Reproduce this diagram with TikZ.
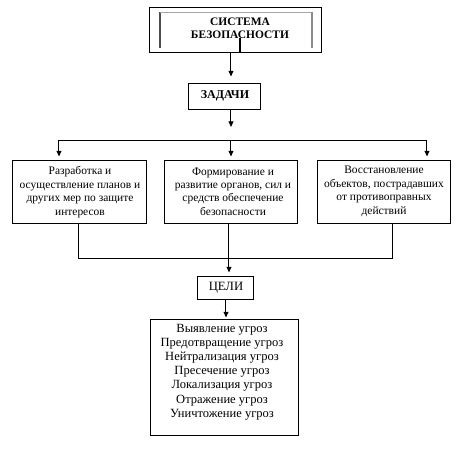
\documentclass[tikz,border=0pt]{standalone}
\usepackage{fontspec}
\setmainfont{Liberation Serif}
\usetikzlibrary{arrows.meta}
\begin{document}
\begin{tikzpicture}[x=0.75pt,y=-0.75pt,
  line width=0.75pt,
  box/.style={draw, rectangle, inner sep=0pt},
  txt/.style={align=center, inner sep=0pt, font=\fontsize{8.6pt}{10.1pt}\selectfont},
  arr/.style={-{Triangle[width=3.6pt,length=4.2pt]}}]
\useasboundingbox (0,0) rectangle (462,451);
\fill[white] (0,0) rectangle (462,451);
% top box
\node[box, minimum width=129pt, minimum height=33.75pt] (top) at (236,29.5) {};
\draw[line width=1.5pt, black!70] (160,48) -- (160,12);
\draw[line width=0.75pt, black!35] (160,12) -- (312,12);
\draw[line width=1.5pt, black!45] (312,12) -- (312,48);
\node[align=center, inner sep=0pt, font=\fontsize{8.6pt}{9.75pt}\selectfont\bfseries] (toptxt) at (240,28.5) {СИСТЕМА\\БЕЗОПАСНОСТИ};
\draw[line width=2pt] (240,38) -- (240,52);
% tasks
\node[box, minimum width=54pt, minimum height=19.5pt, font=\fontsize{9pt}{10pt}\selectfont\bfseries] (zad) at (225,96) {ЗАДАЧИ};
% three boxes
\node[box, minimum width=100.5pt, minimum height=47.25pt] (b1) at (80,191.5) {};
\node[box, minimum width=99.75pt, minimum height=47.25pt] (b2) at (231.5,191.5) {};
\node[box, minimum width=99.75pt, minimum height=47.25pt] (b3) at (384.5,191.5) {};
\node[txt] (t1) at (80,192) {Разработка и\\осуществление планов и\\других мер по защите\\интересов};
\node[txt] (t2) at (233,191.5) {Формирование и\\развитие органов, сил и\\средств обеспечение\\безопасности};
\node[txt] (t3) at (384,191.5) {Восстановление\\объектов, пострадавших\\от противоправных\\действий};
% goals
\node[box, minimum width=42pt, minimum height=17.25pt, font=\fontsize{9.5pt}{10pt}\selectfont] (celi) at (226,287.5) {ЦЕЛИ};
\node[box, minimum width=111pt, minimum height=87pt] (list) at (225,377) {};
\node[align=center, inner sep=0pt, font=\fontsize{9.4pt}{10.65pt}\selectfont] (ltxt) at (222,372) {Выявление угроз\\Предотвращение угроз\\Нейтрализация угроз\\Пресечение угроз\\Локализация угроз\\Отражение угроз\\Уничтожение угроз};
% connectors
\coordinate (j1) at (231,52);
\coordinate (hub) at (231,140);
\coordinate (bl) at (59,140);
\coordinate (br) at (427,140);
\coordinate (cl) at (79,258);
\coordinate (cr) at (393,258);
\coordinate (cm) at (229,258);
\coordinate (cz) at (226,299);
\draw[arr, shorten >=4.5pt] (j1) -- (zad.north -| j1);
\draw[arr, shorten >=9.75pt] (zad.south -| j1) -- (hub);
\draw (bl) -- (br);
\draw[arr, shorten >=2.25pt] (bl) -- (b1.north -| bl);
\draw[arr, shorten >=2.25pt] (hub) -- (b2.north -| hub);
\draw[arr, shorten >=2.25pt] (br) -- (b3.north -| br);
\draw (b1.south -| cl) -- (cl) -- (cr) -- (b3.south -| cr);
\draw[arr, shorten >=2.25pt] (b2.south -| cm) -- (celi.north -| cm);
\draw[arr, shorten >=0.75pt] (cz) -- (list.north -| cz);
\end{tikzpicture}
\end{document}
